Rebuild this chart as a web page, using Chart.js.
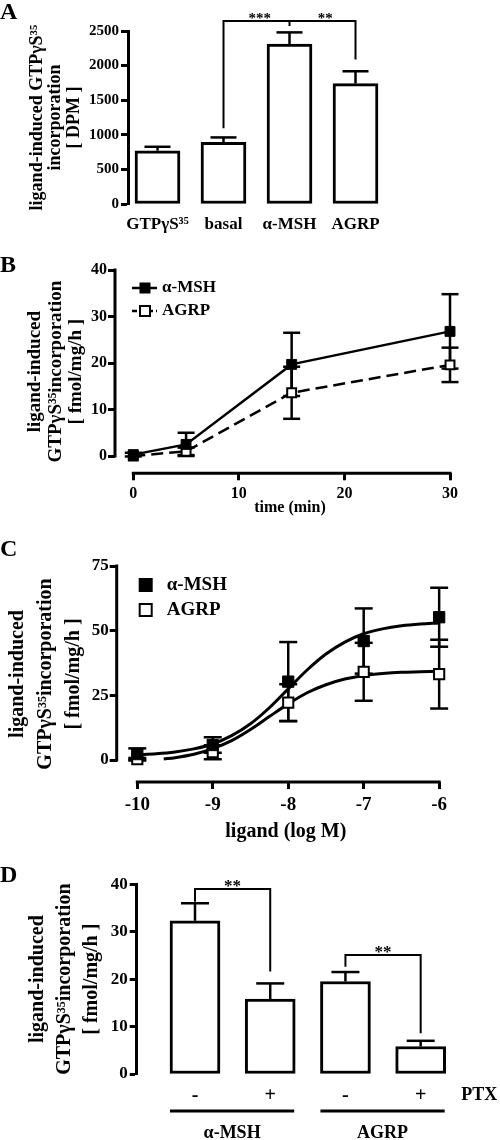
<!DOCTYPE html>
<html>
<head>
<meta charset="utf-8">
<script src="https://cdn.jsdelivr.net/npm/chart.js@4.4.1/dist/chart.umd.min.js"></script>
<style>
  body { margin: 0; background: #fff; width: 500px; height: 1140px; position: relative; overflow: hidden; }
  canvas { position: absolute; left: 0; }
</style>
</head>
<body>
<canvas id="cA" width="500" height="240" style="top:0px"></canvas>
<canvas id="cB" width="500" height="290" style="top:240px"></canvas>
<canvas id="cC" width="500" height="320" style="top:530px"></canvas>
<canvas id="cD" width="500" height="290" style="top:850px"></canvas>
<script>
// ---- panel A: bars, DPM
const catsA = ['GTPγS³⁵', 'basal', 'α-MSH', 'AGRP'];
const meanA = [770, 890, 2310, 1740];
const semA = [57, 72, 170, 178];

// ---- panel B: time course
const timeB = [0, 5, 15, 30];
const mshB = [0.3, 2.5, 19.7, 26.8];
const mshErrB = [0.4, 2.5, 6.8, 8.0];
const agrpB = [0, 1.0, 13.6, 19.6];
const agrpErrB = [0, 0.8, 5.6, 3.7];

// ---- panel C: dose response
const logC = [-10, -9, -8, -7, -6];
const mshC = [2.3, 5.8, 30.3, 46.0, 55.2];
const mshErrC = [2.2, 3.0, 15.3, 12.6, 11.4];
const agrpC = [0.3, 3.0, 22.2, 34.1, 33.2];
const agrpErrC = [0.5, 2.7, 7.1, 11.2, 13.3];
// fitted curves
const fitMshX = [-10, -9.75, -9.5, -9.25, -9, -8.75, -8.5, -8.25, -8, -7.75, -7.5, -7.25, -7, -6.75, -6.5, -6.25, -6];
const fitMshY = [2.0, 2.4, 3.1, 4.3, 6.2, 9.4, 14.0, 20.2, 27.5, 34.8, 41.0, 45.6, 48.8, 50.7, 51.9, 52.6, 53.0];
const fitAgrpX = [-9.65, -9.5, -9.25, -9, -8.75, -8.5, -8.25, -8, -7.75, -7.5, -7.25, -7, -6.75, -6.5, -6.25, -6];
const fitAgrpY = [0.4, 0.9, 2.2, 4.4, 7.5, 11.8, 16.8, 21.7, 26.0, 29.1, 31.3, 32.6, 33.4, 33.9, 34.1, 34.3];

// ---- panel D: PTX
const ptxD = ['-', '+', '-', '+'];
const meanD = [32.3, 15.8, 19.5, 5.8];
const semD = [3.7, 3.3, 2.0, 1.2];
const groupsD = ['α-MSH', 'AGRP'];

const yTitleFmol = ['ligand-induced', 'GTPγS³⁵incorporation', '[ fmol/mg/h ]'];

const FONT = "'Liberation Serif', 'Times New Roman', 'DejaVu Serif', serif";
Chart.defaults.font.family = FONT;
Chart.defaults.font.weight = 'bold';
Chart.defaults.color = '#000';
Chart.defaults.animation = false;
Chart.defaults.responsive = false;
Chart.defaults.plugins.legend.display = false;
Chart.defaults.plugins.tooltip.enabled = false;

function text(ctx, s, x, y, size, align, base) {
  ctx.save();
  ctx.font = `bold ${size}px ${FONT}`;
  ctx.fillStyle = '#000';
  ctx.textAlign = align || 'center';
  ctx.textBaseline = base || 'middle';
  ctx.fillText(s, x, y);
  ctx.restore();
}

function path(ctx, pts, w, dash) {
  ctx.save();
  ctx.strokeStyle = '#000';
  ctx.lineWidth = w;
  ctx.setLineDash(dash || []);
  ctx.beginPath();
  pts.forEach(([x, y], i) => i ? ctx.lineTo(x, y) : ctx.moveTo(x, y));
  ctx.stroke();
  ctx.restore();
}

function bracket(chart, b) {
  const { ctx, scales: { x, y } } = chart;
  const top = y.getPixelForValue(b.level);
  const x1 = x.getPixelForValue(b.from), x2 = x.getPixelForValue(b.to);
  path(ctx, [[x1, y.getPixelForValue(b.fromY)], [x1, top], [x2, top], [x2, y.getPixelForValue(b.toY)]], 2);
  b.stars.forEach(([s, at]) => text(ctx, s, x.getPixelForValue(at), top + 2, b.size, 'center', 'alphabetic'));
}

function drawErr(chart, o) {
  const { ctx, scales: { x, y } } = chart;
  chart.data.datasets.forEach(ds => {
    if (!ds.errs) return;
    ds.data.forEach((p, j) => {
      const e = ds.errs[j];
      if (!e) return;
      const px = x.getPixelForValue(p.x);
      const top = y.getPixelForValue(p.y + e);
      const bot = y.getPixelForValue(o.upOnly ? p.y : p.y - e);
      const segs = [[[px, bot], [px, top]], [[px - o.cap / 2, top], [px + o.cap / 2, top]]];
      if (!o.upOnly) segs.push([[px - o.cap / 2, bot], [px + o.cap / 2, bot]]);
      segs.forEach(s => path(ctx, s, o.width));
    });
  });
}

const errorBars = {
  id: 'errorBars',
  beforeDatasetsDraw(chart, args, o) { if (o.under) drawErr(chart, o); },
  afterDatasetsDraw(chart, args, o) { if (!o.under) drawErr(chart, o); }
};

// GraphPad style axes that stop at the first and last tick
const offsetAxes = {
  id: 'offsetAxes',
  afterDraw(chart, args, o) {
    const { ctx, chartArea: a, scales: { x, y } } = chart;
    ctx.save();
    ctx.lineCap = 'square';
    path(ctx, [[a.left, y.getPixelForValue(o.y0)], [a.left, y.getPixelForValue(o.y1)]], 3);
    path(ctx, [[x.getPixelForValue(o.x0), a.bottom], [x.getPixelForValue(o.x1), a.bottom]], 3);
    ctx.restore();
  }
};

function yAxis(width, max, step, size, title, tsize, lh, tpad, extra) {
  return Object.assign({
    min: 0, max: max,
    afterFit: s => { s.width = width; },
    ticks: { stepSize: step, padding: 2, font: { size: size }, callback: v => String(v) },
    grid: { drawOnChartArea: false, tickLength: 7, tickWidth: 3, color: '#000' },
    border: { display: true, width: 3, color: '#000' },
    title: { display: true, text: title, font: { size: tsize, lineHeight: lh }, padding: { top: tpad, bottom: 0 } }
  }, extra || {});
}

// ---------- A ----------
new Chart(document.getElementById('cA'), {
  type: 'bar',
  data: {
    datasets: [{
      data: catsA.map((c, i) => ({ x: i + 1, y: meanA[i] })),
      errs: semA,
      backgroundColor: '#fff', borderColor: '#000', borderWidth: 3, borderSkipped: false,
      barThickness: 45
    }]
  },
  options: {
    layout: { padding: { top: 31, right: 115, bottom: 0, left: 0 } },
    plugins: { errorBars: { cap: 26, width: 2.5, upOnly: true } },
    scales: {
      x: {
        type: 'linear', min: 0.553, max: 4.447, offset: false,
        afterBuildTicks: s => { s.ticks = catsA.map((c, i) => ({ value: i + 1 })); },
        afterFit: s => { s.height = 36; },
        grid: { display: false, drawTicks: false }, border: { display: false },
        ticks: { autoSkip: false, maxRotation: 0, padding: 10, font: { size: 17 }, callback: v => catsA[v - 1] }
      },
      y: yAxis(128, 2500, 500, 15, ['ligand-induced GTPγS³⁵', 'incorporation', '[ DPM ]'], 18, 1.02, 28)
    }
  },
  plugins: [errorBars, {
    id: 'annA',
    afterDraw(chart) {
      const { ctx, scales: { x, y } } = chart;
      text(ctx, 'A', 0, 13, 24, 'left');
      bracket(chart, { from: 2, to: 4, level: 2644, fromY: 1096, toY: 2087, size: 15,
        stars: [['***', 2.55], ['**', 3.54]] });
      path(ctx, [[x.getPixelForValue(3), y.getPixelForValue(2644)], [x.getPixelForValue(3), y.getPixelForValue(2572)]], 2);
    }
  }]
});

// ---------- B ----------
new Chart(document.getElementById('cB'), {
  type: 'scatter',
  data: {
    datasets: [{
      data: timeB.map((t, i) => ({ x: t, y: mshB[i] })), errs: mshErrB,
      showLine: true, borderColor: '#000', borderWidth: 2.5,
      pointStyle: 'rect', pointRadius: 7, pointBackgroundColor: '#000', pointBorderColor: '#000', pointBorderWidth: 1, clip: false
    }, {
      data: timeB.map((t, i) => ({ x: t, y: agrpB[i] })), errs: agrpErrB,
      showLine: true, borderColor: '#000', borderWidth: 2.5, borderDash: [12, 6],
      pointStyle: 'rect', pointRadius: 6.3, pointBackgroundColor: '#fff', pointBorderColor: '#000', pointBorderWidth: 2, clip: false
    }]
  },
  options: {
    layout: { padding: { top: 30, right: 35, bottom: 11.7, left: 0 } },
    plugins: { errorBars: { cap: 17, width: 2.5, under: true }, offsetAxes: { x0: 0, x1: 30, y0: 0, y1: 40 } },
    scales: {
      x: {
        min: -1.733, max: 31.42,
        afterFit: s => { s.height = 45; },
        grid: { drawOnChartArea: false, tickLength: 7, tickWidth: 3, color: '#000' }, border: { display: false },
        ticks: { stepSize: 10, includeBounds: false, padding: 4, font: { size: 16 } },
        title: { display: true, text: 'time (min)', font: { size: 16 }, padding: { top: 0, bottom: 1 } }
      },
      y: yAxis(115, 40, 10, 16, yTitleFmol, 19, 1.08, 25,
        { min: -3.72, border: { display: false }, ticks: { stepSize: 10, includeBounds: false, padding: 1, font: { size: 16 } } })
    }
  },
  plugins: [errorBars, offsetAxes, {
    id: 'annB',
    afterDraw(chart) {
      const { ctx, chartArea: a } = chart;
      text(ctx, 'B', 0, 26, 24, 'left');
      const rows = [['α-MSH', '#000', []], ['AGRP', '#fff', [5, 3]]];
      rows.forEach(([name, fill, dash], i) => {
        const yy = a.top + 18 + i * 23;
        path(ctx, [[a.left + 17, yy], [a.left + 42, yy]], 2.5, dash);
        ctx.save();
        ctx.fillStyle = fill; ctx.strokeStyle = '#000'; ctx.lineWidth = fill === '#fff' ? 2 : 1;
        ctx.fillRect(a.left + 25, yy - 5, 10, 10); ctx.strokeRect(a.left + 25, yy - 5, 10, 10);
        ctx.restore();
        text(ctx, name, a.left + 47, yy, 17, 'left');
      });
    }
  }]
});

// ---------- C ----------
new Chart(document.getElementById('cC'), {
  type: 'scatter',
  data: {
    datasets: [{
      data: logC.map((v, i) => ({ x: v, y: mshC[i] })), errs: mshErrC,
      pointStyle: 'rect', pointRadius: 8, pointBackgroundColor: '#000', pointBorderColor: '#000', pointBorderWidth: 1, clip: false
    }, {
      data: logC.map((v, i) => ({ x: v, y: agrpC[i] })), errs: agrpErrC,
      pointStyle: 'rect', pointRadius: 7.2, pointBackgroundColor: '#fff', pointBorderColor: '#000', pointBorderWidth: 2, clip: false
    }, {
      data: fitMshX.map((v, i) => ({ x: v, y: fitMshY[i] })),
      showLine: true, pointRadius: 0, borderColor: '#000', borderWidth: 3, cubicInterpolationMode: 'monotone'
    }, {
      data: fitAgrpX.map((v, i) => ({ x: v, y: fitAgrpY[i] })),
      showLine: true, pointRadius: 0, borderColor: '#000', borderWidth: 3, cubicInterpolationMode: 'monotone'
    }]
  },
  options: {
    layout: { padding: { top: 36, right: 45, bottom: 3, left: 0 } },
    plugins: { errorBars: { cap: 18, width: 2.5, under: true }, offsetAxes: { x0: -10, x1: -6, y0: 0, y1: 75 } },
    scales: {
      x: {
        min: -10.273, max: -5.79,
        afterFit: s => { s.height = 65; },
        grid: { drawOnChartArea: false, tickLength: 7, tickWidth: 3, color: '#000' }, border: { display: false },
        ticks: { stepSize: 1, includeBounds: false, padding: 5, font: { size: 19 } },
        title: { display: true, text: 'ligand (log M)', font: { size: 20 }, padding: { top: 0, bottom: 3 } }
      },
      y: yAxis(116.7, 75, 25, 17, yTitleFmol, 20, 1.4, 4,
        { min: -8.5, border: { display: false }, ticks: { stepSize: 25, includeBounds: false, padding: 1, font: { size: 17 } } })
    }
  },
  plugins: [errorBars, offsetAxes, {
    id: 'annC',
    afterDraw(chart) {
      const { ctx, chartArea: a } = chart;
      text(ctx, 'C', 0, 20, 24, 'left');
      const rows = [['α-MSH', '#000'], ['AGRP', '#fff']];
      rows.forEach(([name, fill], i) => {
        const yy = a.top + 19 + i * 25;
        ctx.save();
        ctx.fillStyle = fill; ctx.strokeStyle = '#000'; ctx.lineWidth = 2;
        ctx.fillRect(a.left + 23, yy - 6, 12, 12); ctx.strokeRect(a.left + 23, yy - 6, 12, 12);
        ctx.restore();
        text(ctx, name, a.left + 50, yy, 19, 'left');
      });
    }
  }]
});

// ---------- D ----------
new Chart(document.getElementById('cD'), {
  type: 'bar',
  data: {
    datasets: [{
      data: ptxD.map((c, i) => ({ x: i + 1, y: meanD[i] })),
      errs: semD,
      backgroundColor: '#fff', borderColor: '#000', borderWidth: 3, borderSkipped: false,
      barThickness: 50
    }]
  },
  options: {
    layout: { padding: { top: 34.3, right: 34.2, bottom: 26, left: 0 } },
    plugins: { errorBars: { cap: 28, width: 2.5, upOnly: true } },
    scales: {
      x: {
        type: 'linear', min: 0.225, max: 4.6, offset: false,
        afterBuildTicks: s => { s.ticks = ptxD.map((c, i) => ({ value: i + 1 })); },
        afterFit: s => { s.height = 40; },
        grid: { display: false, drawTicks: false }, border: { display: false },
        ticks: { autoSkip: false, maxRotation: 0, padding: 10, font: { size: 20 }, callback: v => ptxD[v - 1] }
      },
      y: yAxis(136.7, 40, 10, 17, yTitleFmol, 20, 1.35, 24.5)
    }
  },
  plugins: [errorBars, {
    id: 'annD',
    afterDraw(chart) {
      const { ctx, chartArea: a, scales: { x } } = chart;
      text(ctx, 'D', 0, 26, 24, 'left');
      bracket(chart, { from: 1, to: 2, level: 39.0, fromY: 36.3, toY: 21.6, size: 17, stars: [['**', 1.5]] });
      bracket(chart, { from: 3, to: 4, level: 25.1, fromY: 22.6, toY: 8.6, size: 17, stars: [['**', 3.5]] });
      text(ctx, 'PTX', x.getPixelForValue(4.78), a.bottom + 21, 18);
      groupsD.forEach((g, i) => {
        const l = x.getPixelForValue(2 * i + 1) - 25, r = x.getPixelForValue(2 * i + 2) + 24;
        path(ctx, [[l, a.bottom + 37], [r, a.bottom + 37]], 3);
        text(ctx, g, (l + r) / 2, a.bottom + 59, 18);
      });
    }
  }]
});
</script>
</body>
</html>
